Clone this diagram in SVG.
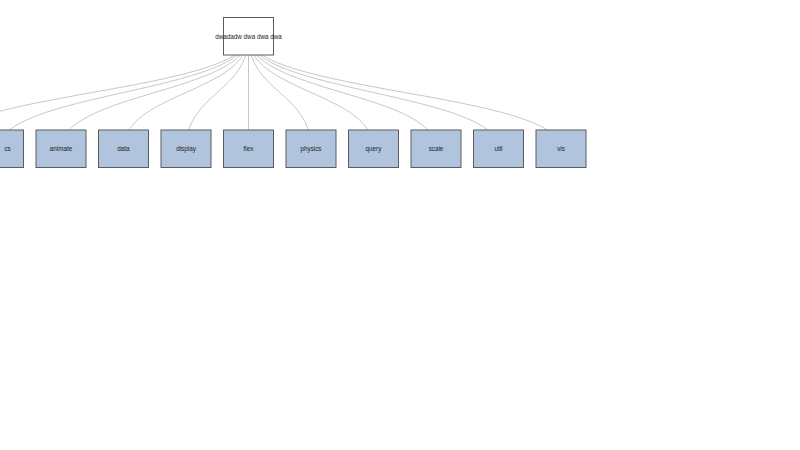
<svg xmlns="http://www.w3.org/2000/svg" width="800" height="450" viewBox="0 0 800 450">
<style>
.link{fill:none;stroke:#c8c8c8;stroke-width:1}
.node rect{stroke:#5c5c5c;stroke-width:1}
.root rect{fill:#ffffff}
.child rect{fill:#b0c4de}
text{font-family:"Liberation Sans",Arial,sans-serif;font-size:6.3px;fill:#222;text-anchor:middle}
</style>
<rect width="800" height="450" fill="#ffffff"/>
<g id="links">
<path class="link" d="M248.5,36.25C248.5,92.5 -64,92.5 -64,148.75"/>
<path class="link" d="M248.5,36.25C248.5,92.5 -1.5,92.5 -1.5,148.75"/>
<path class="link" d="M248.5,36.25C248.5,92.5 61,92.5 61,148.75"/>
<path class="link" d="M248.5,36.25C248.5,92.5 123.5,92.5 123.5,148.75"/>
<path class="link" d="M248.5,36.25C248.5,92.5 186,92.5 186,148.75"/>
<path class="link" d="M248.5,36.25L248.5,148.75"/>
<path class="link" d="M248.5,36.25C248.5,92.5 311,92.5 311,148.75"/>
<path class="link" d="M248.5,36.25C248.5,92.5 373.5,92.5 373.5,148.75"/>
<path class="link" d="M248.5,36.25C248.5,92.5 436,92.5 436,148.75"/>
<path class="link" d="M248.5,36.25C248.5,92.5 498.5,92.5 498.5,148.75"/>
<path class="link" d="M248.5,36.25C248.5,92.5 561,92.5 561,148.75"/>
</g>
<g id="node-root" class="node root"><rect x="223.5" y="17.5" width="50" height="37.5"/><text x="248.5" y="38.6">dwadadw dwa dwa dwa</text></g>
<g id="node-offscreen" class="node child"><rect x="-89" y="130" width="50" height="37.5"/></g>
<g id="node-cs" class="node child"><rect x="-26.5" y="130" width="50" height="37.5"/><text x="10.7" y="151" style="text-anchor:end">cs</text></g>
<g id="node-animate" class="node child"><rect x="36" y="130" width="50" height="37.5"/><text x="61" y="151">animate</text></g>
<g id="node-data" class="node child"><rect x="98.5" y="130" width="50" height="37.5"/><text x="123.5" y="151">data</text></g>
<g id="node-display" class="node child"><rect x="161" y="130" width="50" height="37.5"/><text x="186" y="151">display</text></g>
<g id="node-flex" class="node child"><rect x="223.5" y="130" width="50" height="37.5"/><text x="248.5" y="151">flex</text></g>
<g id="node-physics" class="node child"><rect x="286" y="130" width="50" height="37.5"/><text x="311" y="151">physics</text></g>
<g id="node-query" class="node child"><rect x="348.5" y="130" width="50" height="37.5"/><text x="373.5" y="151">query</text></g>
<g id="node-scale" class="node child"><rect x="411" y="130" width="50" height="37.5"/><text x="436" y="151">scale</text></g>
<g id="node-util" class="node child"><rect x="473.5" y="130" width="50" height="37.5"/><text x="498.5" y="151">util</text></g>
<g id="node-vis" class="node child"><rect x="536" y="130" width="50" height="37.5"/><text x="561" y="151">vis</text></g>
</svg>
